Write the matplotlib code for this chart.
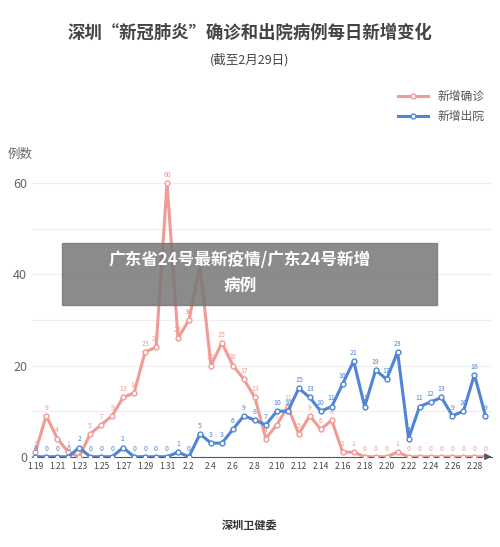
import matplotlib
matplotlib.use("Agg")
import matplotlib.pyplot as plt
from matplotlib.patches import Rectangle

plt.rcParams['font.family'] = ['Noto Sans CJK SC', 'DejaVu Sans']

dates = [f"1.{d}" for d in range(19, 32)] + [f"2.{d}" for d in range(1, 30)]
confirmed = [1, 9, 4, 1, 0, 5, 7, 9, 13, 14, 23, 24, 60, 26, 30, 42, 20, 25, 20, 17, 13,
             4, 7, 11, 5, 9, 6, 8, 1, 1, 0, 0, 0, 1, 0, 0, 0, 0, 0, 0, 0, 0]
discharged = [0, 0, 0, 0, 2, 0, 0, 0, 2, 0, 0, 0, 0, 1, 0, 5, 3, 3, 6, 9, 8,
              7, 10, 10, 15, 13, 10, 11, 16, 21, 11, 19, 17, 23, 4, 11, 12, 13, 9, 10, 18, 9]
pink = '#f29a94'
blue = '#4f84d6'

fig = plt.figure(figsize=(5.0, 5.47), dpi=100)
ax = fig.add_axes([0.064, 0.165, 0.92, 0.525])
x = list(range(len(dates)))
ax.plot(x, confirmed, color=pink, lw=2.2, marker='o', ms=3.5, mfc='white', mec=pink, mew=1, label='新增确诊', zorder=3)
ax.plot(x, discharged, color=blue, lw=2.2, marker='o', ms=3.5, mfc='white', mec=blue, mew=1, label='新增出院', zorder=4)
for xi, v in zip(x, confirmed):
    ax.annotate(str(v), (xi, v), xytext=(0, 3), textcoords='offset points', ha='center', va='bottom', fontsize=5, color=pink)
for xi, v in zip(x, discharged):
    ax.annotate(str(v), (xi, v), xytext=(0, 3), textcoords='offset points', ha='center', va='bottom', fontsize=5, color=blue)

ax.set_xlim(-0.3, 41.6)
ax.set_ylim(0, 63)
ax.set_yticks([0, 20, 40, 60])
ax.set_yticks([10, 30, 50], minor=True)
ax.tick_params(axis='y', which='both', length=0, labelsize=9, colors='#666666')
ax.set_xticks(x[::2])
ax.set_xticklabels(dates[::2])
ax.tick_params(axis='x', length=0, labelsize=6, colors='#444444')
ax.grid(axis='y', which='both', color='#eeeeee', lw=0.8)
for s in ['top', 'right', 'left']:
    ax.spines[s].set_visible(False)
ax.spines['bottom'].set_color('#555555')
ax.annotate('', xy=(1.005, 0), xytext=(0.99, 0), xycoords='axes fraction',
            arrowprops=dict(arrowstyle='-|>', color='#555555', lw=0.8))
h, l = ax.get_legend_handles_labels()
fig.legend(h, l, loc='upper right', bbox_to_anchor=(0.99, 0.855), frameon=False, fontsize=8.5,
           labelcolor='#555555', handlelength=2.5, labelspacing=0.6)

fig.text(0.5, 0.94, '深圳“新冠肺炎”确诊和出院病例每日新增变化', ha='center', va='center', fontsize=12.5, fontweight='bold', color='#444444')
fig.text(0.5, 0.89, '(截至2月29日)', ha='center', va='center', fontsize=9, color='#444444')
fig.text(0.015, 0.717, '例数', ha='left', va='center', fontsize=9, color='#666666')
fig.text(0.5, 0.04, '深圳卫健委', ha='center', va='center', fontsize=8, color='#333333', fontweight='bold')

fig.patches.append(Rectangle((0.124, 0.442), 0.75, 0.114, transform=fig.transFigure, color='#777777', alpha=0.85, zorder=10))
fig.text(0.48, 0.525, '广东省24号最新疫情/广东24号新增', ha='center', va='center', fontsize=12, fontweight='bold', color='white', zorder=11)
fig.text(0.48, 0.478, '病例', ha='center', va='center', fontsize=12, fontweight='bold', color='white', zorder=11)

fig.savefig('out.png', dpi=100)
